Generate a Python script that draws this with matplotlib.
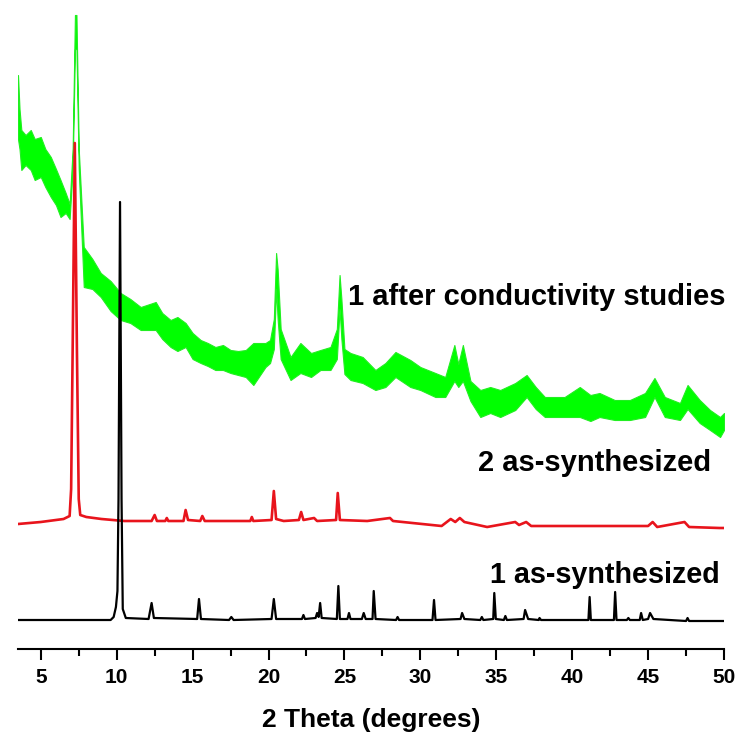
import matplotlib
matplotlib.use("Agg")
import matplotlib.pyplot as plt
from matplotlib.ticker import MultipleLocator

plt.rcParams['font.family'] = ['Liberation Sans', 'DejaVu Sans']

# 1 as-synthesized (black), intensity in a.u.
black_x = [3.5, 9.6, 9.8, 9.95, 10.05, 10.12, 10.22, 10.32, 10.4, 10.6,
           12.1, 12.3, 12.45, 15.3, 15.42, 15.55, 17.4, 17.55, 17.7,
           20.2, 20.35, 20.5, 22.2, 22.3, 22.4, 23.1, 23.2, 23.3, 23.4, 23.5,
           24.5, 24.6, 24.7, 25.2, 25.3, 25.4, 26.15, 26.27, 26.4,
           26.85, 26.93, 27.05, 28.4, 28.5, 28.6, 30.8, 30.9, 31.0,
           32.65, 32.75, 32.9, 33.95, 34.05, 34.15, 34.8, 34.87, 34.97,
           35.5, 35.6, 35.7, 36.8, 36.9, 37.1, 37.8, 37.85, 37.95,
           41.07, 41.15, 41.23, 42.75, 42.83, 42.92, 43.6, 43.7, 43.8,
           44.45, 44.54, 44.65, 45.0, 45.13, 45.35, 47.5, 47.6, 47.7, 50.0]
black_y = [29, 29, 32, 42, 58, 150, 447, 150, 40, 31,
           30, 46, 31, 30, 50, 30, 29, 32, 29,
           30, 50, 30, 30, 34, 30, 31, 36, 32, 46, 31,
           30, 63, 30, 30, 36, 30, 30, 36, 30,
           30, 58, 30, 29, 32, 29, 29, 49, 29,
           30, 36, 30, 29, 32, 29, 30, 56, 30,
           29, 33, 29, 30, 39, 30, 29, 31, 29,
           29, 52, 29, 29, 57, 29, 29, 31, 29,
           29, 36, 29, 30, 36, 30, 28, 31, 28, 28]

# 2 as-synthesized (red)
red_x = [3.5, 5.0, 6.5, 6.9, 7.0, 7.1, 7.24, 7.38, 7.5, 7.6, 8.0, 9.0, 10.5,
         12.3, 12.5, 12.65, 13.2, 13.3, 13.4, 14.4, 14.54, 14.7, 15.5, 15.64, 15.8,
         17.0, 18.8, 18.9, 19.0, 20.2, 20.35, 20.5, 21.0, 22.0, 22.15, 22.3,
         23.0, 23.2, 24.45, 24.56, 24.7, 26.5, 28.0, 28.2, 31.4, 32.0, 32.3,
         32.6, 32.9, 34.4, 36.25, 36.5, 36.97, 37.3, 45.0, 45.3, 45.6,
         47.4, 47.7, 49.7, 50.0]
red_y = [125, 127, 130, 133, 160, 300, 506, 300, 150, 134, 132, 130, 128,
         128, 134, 128, 128, 131, 128, 128, 139, 129, 128, 133, 128,
         128, 128, 132, 128, 129, 158, 130, 128, 129, 137, 129,
         131, 128, 129, 156, 129, 128, 131, 128, 123, 130, 127,
         131, 127, 122, 127, 124, 127, 123, 123, 127, 122,
         127, 122, 121, 121]

# 1 after conductivity studies (green, noisy band: lower / upper envelope)
green_x = [3.5, 3.6, 3.72, 4.0, 4.34, 4.6, 5.0, 5.3, 5.66, 6.0, 6.3, 6.64, 6.9,
           7.1, 7.25, 7.35, 7.5, 7.83, 8.4, 8.95, 9.6, 10.26, 10.9, 11.58,
           12.57, 13.0, 13.55, 14.0, 14.54, 15.0, 15.53, 16.0, 16.5, 17.0, 17.5,
           18.0, 18.5, 19.0, 19.8, 20.1, 20.35, 20.5, 20.6, 20.8, 21.45, 22.1,
           22.8, 23.42, 24.08, 24.5, 24.68, 24.8, 25.0, 25.4, 26.2, 27.04,
           27.7, 28.36, 29.34, 30.0, 30.99, 31.64, 32.24, 32.5, 32.8, 33.3,
           33.95, 34.6, 35.26, 36.25, 37.0, 37.6, 38.2, 39.5, 40.5, 41.2,
           41.8, 42.8, 43.8, 44.8, 45.42, 46.1, 47.1, 47.6, 48.4, 49.08,
           49.74, 50.0]
green_lo = [510, 500, 479, 484, 479, 469, 472, 462, 452, 444, 432, 436, 430,
            480, 600, 600, 480, 362, 360, 352, 338, 329, 326, 319,
            319, 310, 302, 298, 302, 290, 286, 283, 279, 279, 276,
            274, 272, 264, 282, 286, 300, 360, 330, 290, 269, 276,
            272, 279, 279, 290, 340, 310, 275, 269, 266, 259,
            262, 272, 262, 259, 252, 252, 268, 262, 268, 248,
            232, 236, 232, 239, 252, 240, 232, 232, 232, 228,
            232, 229, 229, 232, 252, 232, 229, 240, 226, 219,
            212, 219]
green_hi = [574, 540, 519, 514, 519, 510, 512, 500, 492, 480, 469, 456, 445,
            500, 634, 634, 500, 402, 390, 376, 368, 356, 350, 342,
            347, 336, 329, 332, 326, 316, 309, 306, 302, 304, 299,
            298, 299, 306, 306, 309, 330, 396, 380, 320, 292, 306,
            296, 299, 302, 320, 374, 350, 300, 296, 292, 279,
            286, 297, 289, 282, 276, 272, 304, 285, 304, 268,
            259, 262, 259, 266, 274, 262, 252, 252, 262, 254,
            256, 249, 249, 256, 271, 252, 246, 264, 249, 239,
            232, 236]

ticks_major = [5, 10, 15, 20, 25, 30, 35, 40, 45, 50]

fig = plt.figure(figsize=(7.39, 7.34), dpi=100)
ax = fig.add_axes([18 / 739, 85 / 734, 706 / 739, 649 / 734])

ax.fill_between(green_x, green_lo, green_hi, color='#00ff00', linewidth=0.8,
                edgecolor='#22ee22')
ax.plot(red_x, red_y, color='#e8141c', linewidth=1.9)
ax.plot(black_x, black_y, color='black', linewidth=1.6)

ax.text(25.26, 352, '1 after conductivity studies', fontsize=21,
        fontweight='bold', va='center', ha='left')
ax.text(33.8, 186, '2 as-synthesized', fontsize=21, fontweight='bold',
        va='center', ha='left')
ax.text(34.6, 74, '1 as-synthesized', fontsize=20.7, fontweight='bold',
        va='center', ha='left')

ax.set_xlim(3.5, 50)
ax.set_ylim(0, 649)
ax.set_xticks(ticks_major)
ax.xaxis.set_minor_locator(MultipleLocator(2.5))
ax.set_yticks([])
for s in ['left', 'right', 'top']:
    ax.spines[s].set_visible(False)
ax.spines['bottom'].set_linewidth(1.5)
ax.tick_params(axis='x', which='major', direction='out', length=8, width=1.5,
               labelsize=15, pad=6)
ax.tick_params(axis='x', which='minor', direction='out', length=5, width=1.5)
for lab in ax.get_xticklabels():
    lab.set_fontweight('bold')
ax.set_xlabel('2 Theta (degrees)', fontsize=19, fontweight='bold', labelpad=15)

fig.savefig('out.png', dpi=100)
